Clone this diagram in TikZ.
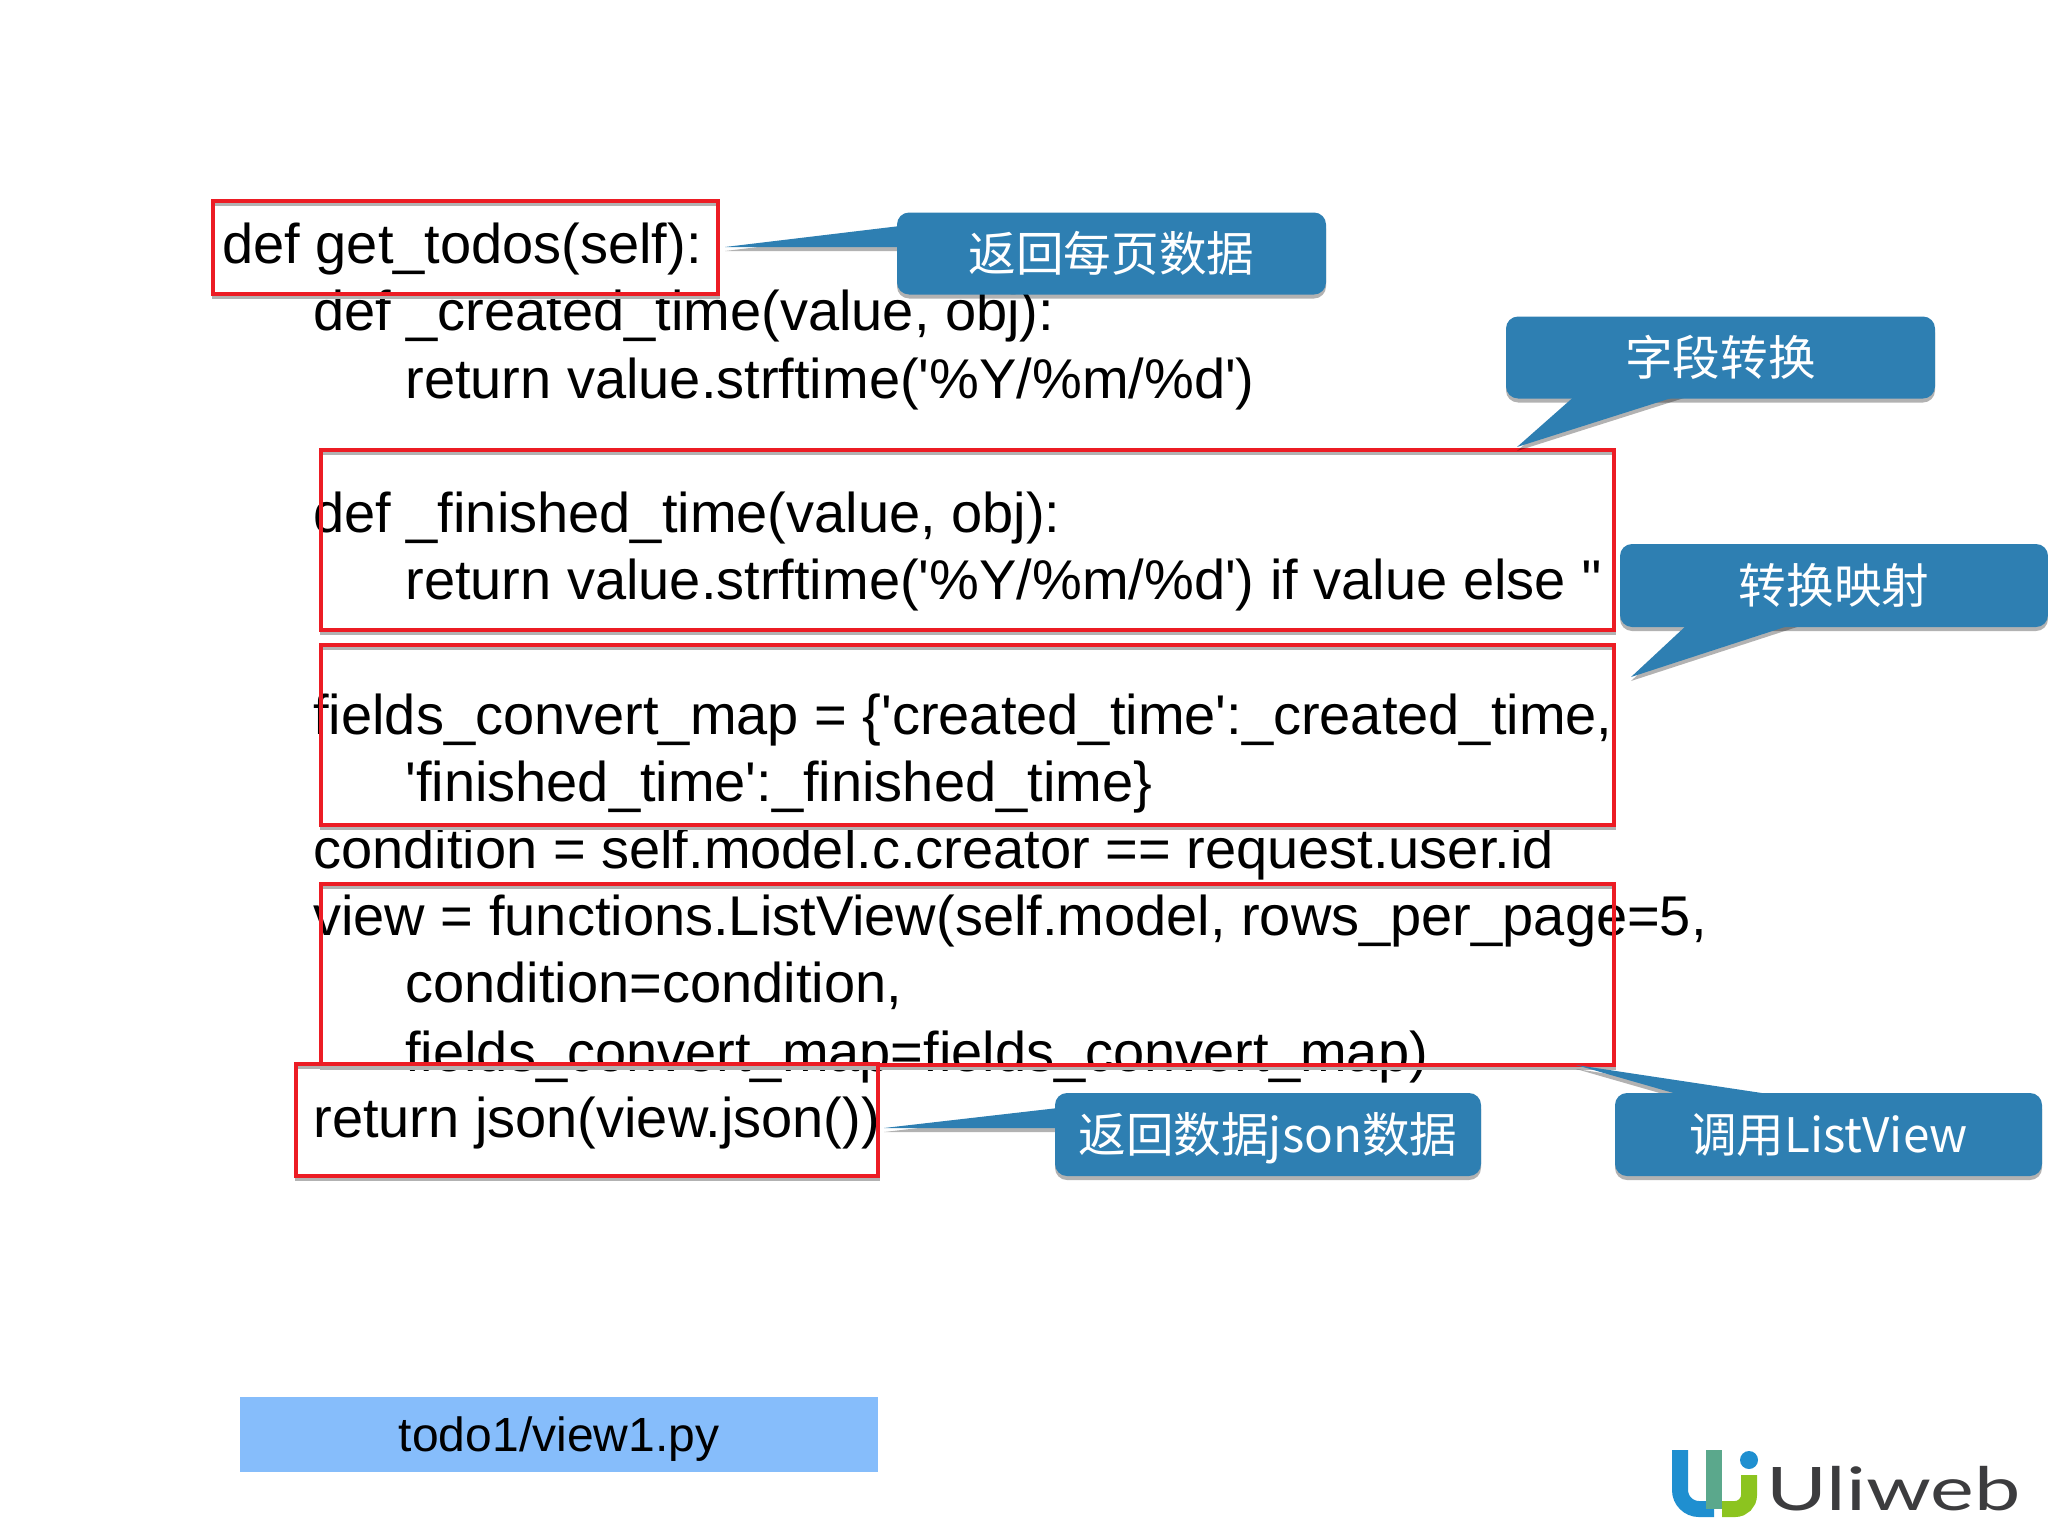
\documentclass[tikz,border=0pt]{standalone}
\usepackage{fontspec}
\usepackage{xcolor}
\setmainfont[Ligatures=TeXOff]{Liberation Sans}
\newfontfamily\cjk{Noto Sans CJK SC}
\newfontfamily\logofont{Lato}
\usetikzlibrary{calc}
\usetikzlibrary{positioning}
\usetikzlibrary{shadows}
\definecolor{calloutblue}{HTML}{2E7FB2}
\definecolor{boxred}{HTML}{EC1C24}
\definecolor{pathblue}{HTML}{86BDFB}
\definecolor{logoblue}{HTML}{1F8FD0}
\definecolor{logoteal}{HTML}{5BA88C}
\definecolor{logogreen}{HTML}{8CC41F}
\definecolor{logogray}{HTML}{3C3C3E}

\begin{document}
\begin{tikzpicture}[x=0.5pt, y=-0.5pt, font=\fontsize{28}{33}\selectfont]
	\tikzstyle{code}=[anchor=base west, inner sep=0pt]
	\tikzstyle{callout}=[fill=calloutblue, rounded corners=6pt, text=white, inner sep=0pt, text height=20.5pt, text depth=3pt, font=\cjk\fontsize{23.8}{28}\selectfont, drop shadow={shadow xshift=0pt, shadow yshift=-2pt, fill=black, opacity=0.3}]
	\tikzstyle{tail}=[fill=calloutblue]
	\tikzstyle{tailshadow}=[fill=black, opacity=0.3, transform canvas={yshift=-2pt}]
	\tikzstyle{redbox}=[draw=boxred, line width=1.8pt, preaction={draw=black!30, line width=1.5pt, transform canvas={yshift=-1.5pt}}]

	\useasboundingbox (0,0) rectangle (2048,1536);

	% code lines
	\node[code] (l1) at (222,263) {def get\_todos(self):};
	\node[code] (l2) at (313,330) {def \_created\_time(value, obj):};
	\node[code] (l3) at (405,398) {return value.strftime('\%Y/\%m/\%d')};
	\node[code] (l4) at (313,532) {def \_finished\_time(value, obj):};
	\node[code] (l5) at (405,599) {return value.strftime('\%Y/\%m/\%d') if value else ''};
	\node[code] (l6) at (313,734) {fields\_convert\_map = \{'created\_time':\_created\_time,};
	\node[code] (l7) at (405,801) {'finished\_time':\_finished\_time\}};
	\node[code] (l8) at (313,868) {condition = self.model.c.creator == request.user.id};
	\node[code] (l9) at (313,935) {view = functions.ListView(self.model, rows\_per\_page=5,};
	\node[code] (l10) at (405,1002) {condition=condition,};
	\node[code] (l11) at (405,1071) {fields\_convert\_map=fields\_convert\_map)};
	\node[code] (l12) at (313,1137) {return json(view.json())};

	% red frames
	\draw[redbox] (213,201) rectangle (718,294);
	\draw[redbox] (321,450) rectangle (1614,630);
	\draw[redbox] (321,645) rectangle (1614,825);
	\draw[redbox] (321,884) rectangle (1614,1065);
	\draw[redbox] (296,1064) rectangle (878,1176);

	% callout tails
	\coordinate (t1a) at (725,247);
	\coordinate (t1b) at (900,226);
	\coordinate (t1c) at (900,247);
	\coordinate (t2a) at (1517,447);
	\coordinate (t2b) at (1577,394);
	\coordinate (t2c) at (1684,394);
	\coordinate (t3a) at (1631,677);
	\coordinate (t3b) at (1689,623);
	\coordinate (t3c) at (1797,623);
	\coordinate (t4a) at (884,1128);
	\coordinate (t4b) at (1058,1108);
	\coordinate (t4c) at (1058,1128);
	\coordinate (t5a) at (1576,1065);
	\coordinate (t5b) at (1691,1098);
	\coordinate (t5c) at (1795,1098);
	\foreach \n in {1,...,5}
		\fill[tailshadow] (t\n a) -- (t\n b) -- (t\n c) -- cycle;

	% callouts
	\node[callout, minimum width=214.5pt, minimum height=41pt] (c1) at (1111.5,253.5) {返回每页数据};
	\node[callout, minimum width=214.5pt, minimum height=41pt] (c2) at (1720.5,357.5) {字段转换};
	\node[callout, minimum width=214pt, minimum height=41.5pt] (c3) at (1834,585.5) {转换映射};
	\node[callout, minimum width=213pt, minimum height=41.5pt] (c4) at (1268,1134.5) {返回数据json数据};
	\node[callout, minimum width=213.5pt, minimum height=41.5pt] (c5) at (1828.5,1134.5) {调用ListView};
	\foreach \n in {1,...,5}
		\fill[tail] (t\n a) -- (t\n b) -- (t\n c) -- cycle;

	% file name
	\node[fill=pathblue, minimum width=319pt, minimum height=37.5pt, inner sep=0pt, text height=18pt, text depth=1pt, font=\fontsize{24}{28}\selectfont] (path) at (559,1434.5) {todo1/view1.py};

	% logo
	\draw[logoblue, line width=8pt] (1680,1450) -- (1680,1490) arc[start angle=180, end angle=90, radius=19] -- (1714,1509);
	\draw[logoteal, line width=8pt] (1714,1450) -- (1714,1509);
	\draw[logogreen, line width=8pt] (1722,1509) -- (1735,1509) arc[start angle=90, end angle=0, radius=14] -- (1749,1475);
	\fill[logoblue] (1749,1460) circle (9);
	\node[logogray, anchor=west, inner sep=0pt, xscale=1.38, transform shape, font=\logofont\fontsize{30}{30}\selectfont] (logo) at (1766,1489) {Uliweb};
\end{tikzpicture}
\end{document}
